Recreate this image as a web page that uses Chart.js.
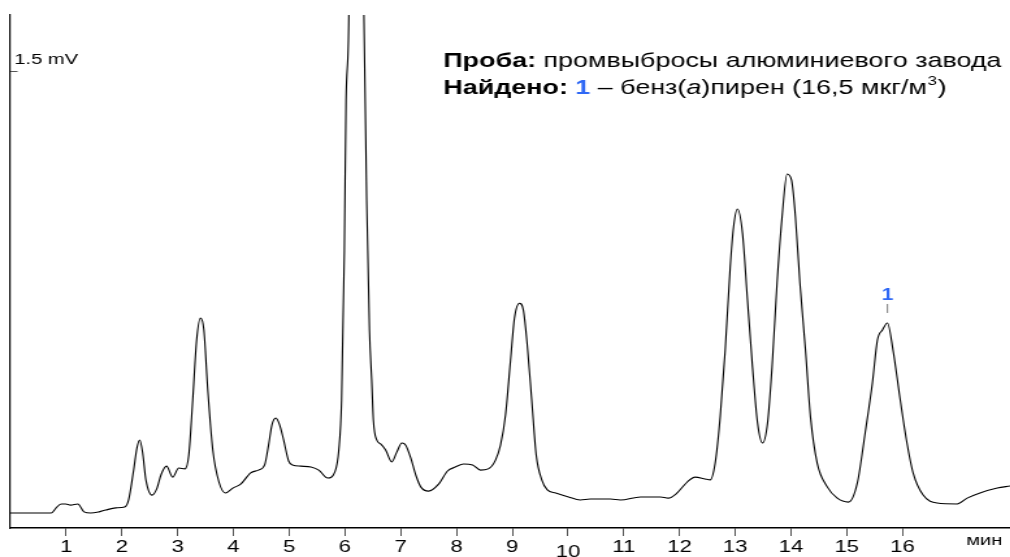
<!DOCTYPE html>
<html>
<head>
<meta charset="utf-8">
<script src="https://cdn.jsdelivr.net/npm/chart.js@4.4.0/dist/chart.umd.min.js"></script>
<style>
  body { margin: 0; background: #fff; overflow: hidden; }
  /* исходная картинка растянута по горизонтали */
  #wrap { width: 777px; height: 557px; transform: scaleX(1.3); transform-origin: 0 0; }
  canvas { display: block; }
</style>
</head>
<body>
<div id="wrap"><canvas id="chrom" width="777" height="557"></canvas></div>
<script>
// время удерживания, мин
const times = [0, 0.73, 0.82, 0.91, 0.99, 1.08, 1.21, 1.32, 1.44, 1.59, 1.71, 1.89, 2.05, 2.12, 2.21, 2.27, 2.32, 2.37, 2.43, 2.54,
  2.63, 2.70, 2.80, 2.91, 3.02, 3.13, 3.20, 3.27, 3.34, 3.41, 3.47, 3.54, 3.63, 3.74, 3.86, 3.99, 4.13, 4.31, 4.45, 4.56,
  4.63, 4.69, 4.76, 4.83, 4.90, 4.99, 5.06, 5.21, 5.39, 5.53, 5.69, 5.82, 5.89, 5.94, 5.99, 6.02, 6.07, 6.12, 6.19, 6.26,
  6.34, 6.39, 6.44, 6.48, 6.51, 6.57, 6.64, 6.73, 6.84, 6.93, 7.02, 7.09, 7.18, 7.27, 7.36, 7.50, 7.68, 7.84, 7.98, 8.13,
  8.29, 8.43, 8.57, 8.70, 8.79, 8.88, 8.97, 9.04, 9.13, 9.20, 9.27, 9.35, 9.43, 9.53, 9.63, 9.78, 10.01, 10.22, 10.40, 10.76,
  10.94, 11.30, 11.66, 11.80, 11.94, 12.14, 12.28, 12.46, 12.55, 12.64, 12.73, 12.82, 12.91, 12.97, 13.04, 13.13, 13.22, 13.31, 13.40, 13.49,
  13.58, 13.66, 13.75, 13.84, 13.93, 14.01, 14.08, 14.16, 14.26, 14.35, 14.47, 14.65, 14.83, 15.03, 15.19, 15.33, 15.46, 15.55, 15.64, 15.73,
  15.83, 15.96, 16.08, 16.19, 16.37, 16.62, 16.98, 17.16, 17.39, 17.70, 17.93];

// сигнал, мВ
const signal = [0.049, 0.049, 0.066, 0.079, 0.079, 0.075, 0.079, 0.053, 0.049, 0.053, 0.059, 0.066, 0.069, 0.092, 0.190, 0.263, 0.289, 0.249, 0.158, 0.108,
  0.131, 0.174, 0.203, 0.167, 0.197, 0.194, 0.240, 0.420, 0.617, 0.689, 0.650, 0.453, 0.256, 0.151, 0.115, 0.131, 0.144, 0.181, 0.190, 0.207,
  0.272, 0.338, 0.361, 0.338, 0.289, 0.220, 0.207, 0.203, 0.200, 0.190, 0.164, 0.184, 0.256, 0.420, 0.912, 1.405, 1.684, 3.04, 3.70, 3.04,
  1.684, 1.076, 0.650, 0.486, 0.354, 0.289, 0.276, 0.256, 0.217, 0.249, 0.279, 0.272, 0.230, 0.174, 0.135, 0.121, 0.144, 0.187, 0.200, 0.210,
  0.207, 0.190, 0.194, 0.223, 0.272, 0.371, 0.551, 0.689, 0.738, 0.715, 0.600, 0.420, 0.240, 0.158, 0.125, 0.115, 0.102, 0.092, 0.095, 0.095,
  0.092, 0.102, 0.102, 0.098, 0.112, 0.151, 0.167, 0.161, 0.158, 0.213, 0.364, 0.584, 0.857, 0.988, 1.047, 0.968, 0.748, 0.528, 0.345, 0.279,
  0.345, 0.528, 0.804, 1.021, 1.162, 1.142, 1.021, 0.804, 0.584, 0.364, 0.213, 0.135, 0.098, 0.085, 0.148, 0.312, 0.476, 0.617, 0.650, 0.673,
  0.584, 0.420, 0.279, 0.181, 0.108, 0.082, 0.079, 0.098, 0.115, 0.131, 0.138];

const xTicks = [1, 2, 3, 4, 5, 6, 7, 8, 9, 10, 11, 12, 13, 14, 15, 16];
const yTicks = [1.5];

// найденный пик
const peakLabel = '1';
const peakTime = 15.73;
const peakValue = 0.673;

const FONT = '"Liberation Sans", Arial, Helvetica, sans-serif';
const BLUE = '#2f68f5';
const TS = '20.7px ';

const points = times.map((t, i) => ({ x: t, y: signal[i] }));

// подписи: проба, пик, единицы оси
const annotations = {
  id: 'annotations',
  afterDraw(chart) {
    const ctx = chart.ctx;
    const xs = chart.scales.x, ys = chart.scales.y;
    ctx.save();

    // y tick mark, inside the plot
    const ty = Math.round(ys.getPixelForValue(yTicks[0])) + 0.5;
    ctx.strokeStyle = '#555';
    ctx.lineWidth = 1;
    ctx.beginPath();
    ctx.moveTo(xs.left, ty);
    ctx.lineTo(xs.left + 5.5, ty);
    ctx.stroke();

    // peak marker
    const px = xs.getPixelForValue(peakTime);
    const py = ys.getPixelForValue(peakValue);
    ctx.strokeStyle = '#777';
    ctx.beginPath();
    ctx.moveTo(px, py - 19);
    ctx.lineTo(px, py - 10);
    ctx.stroke();
    ctx.fillStyle = BLUE;
    ctx.font = 'bold 16px ' + FONT;
    ctx.textAlign = 'center';
    ctx.textBaseline = 'alphabetic';
    ctx.fillText(peakLabel, px, py - 23);

    // axis unit
    ctx.fillStyle = '#000';
    ctx.font = '15.5px ' + FONT;
    ctx.textAlign = 'right';
    ctx.fillText('мин', 771, 545);

    // sample text
    ctx.textAlign = 'left';
    let x = 341;
    const parts1 = [
      ['bold ' + TS + FONT, '#000', 'Проба: '],
      [TS + FONT, '#000', 'промвыбросы алюминиевого завода']
    ];
    parts1.forEach(p => {
      ctx.font = p[0]; ctx.fillStyle = p[1];
      ctx.fillText(p[2], x, 67);
      x += ctx.measureText(p[2]).width;
    });
    x = 341;
    const parts2 = [
      ['bold ' + TS + FONT, '#000', 'Найдено: '],
      ['bold ' + TS + FONT, BLUE, '1'],
      [TS + FONT, '#000', ' – бенз('],
      ['italic ' + TS + FONT, '#000', 'а'],
      [TS + FONT, '#000', ')пирен (16,5 мкг/м']
    ];
    parts2.forEach(p => {
      ctx.font = p[0]; ctx.fillStyle = p[1];
      ctx.fillText(p[2], x, 94);
      x += ctx.measureText(p[2]).width;
    });
    ctx.font = '13px ' + FONT;
    ctx.fillText('3', x + 0.5, 85);
    x += ctx.measureText('3').width + 1;
    ctx.font = TS + FONT;
    ctx.fillText(')', x, 94);

    ctx.restore();
  }
};

new Chart(document.getElementById('chrom'), {
  type: 'line',
  data: {
    datasets: [{
      data: points,
      borderColor: '#000',
      borderWidth: 1.1,
      pointRadius: 0,
      fill: false,
      cubicInterpolationMode: 'monotone'
    }]
  },
  options: {
    responsive: false,
    animation: false,
    layout: { padding: { top: 15, left: 0, right: 0, bottom: 0 } },
    plugins: { legend: { display: false }, tooltip: { enabled: false } },
    scales: {
      x: {
        type: 'linear',
        min: 0,
        max: 17.93,
        afterBuildTicks: s => { s.ticks = xTicks.map(v => ({ value: v })); },
        afterFit: s => { s.height = 29; },
        grid: { drawOnChartArea: false, tickLength: 8, color: '#555' },
        border: { color: '#000', width: 1.4 },
        ticks: {
          color: '#000',
          padding: 1,
          maxRotation: 0,
          autoSkip: false,
          // "10" sits a little lower in the original
          font: c => (c.tick && c.tick.value === 10)
            ? { family: FONT, size: 17, lineHeight: 1.8 }
            : { family: FONT, size: 17 }
        }
      },
      y: {
        min: 0,
        max: 1.684,
        afterBuildTicks: s => { s.ticks = yTicks.map(v => ({ value: v })); },
        afterFit: s => { s.width = 8; },
        grid: { display: false },
        border: { color: '#000', width: 1.2 },
        ticks: {
          mirror: true,
          padding: 3,
          labelOffset: -11,
          color: '#000',
          font: { family: FONT, size: 15.5 },
          callback: v => v + ' mV'
        }
      }
    }
  },
  plugins: [annotations]
});
</script>
</body>
</html>
